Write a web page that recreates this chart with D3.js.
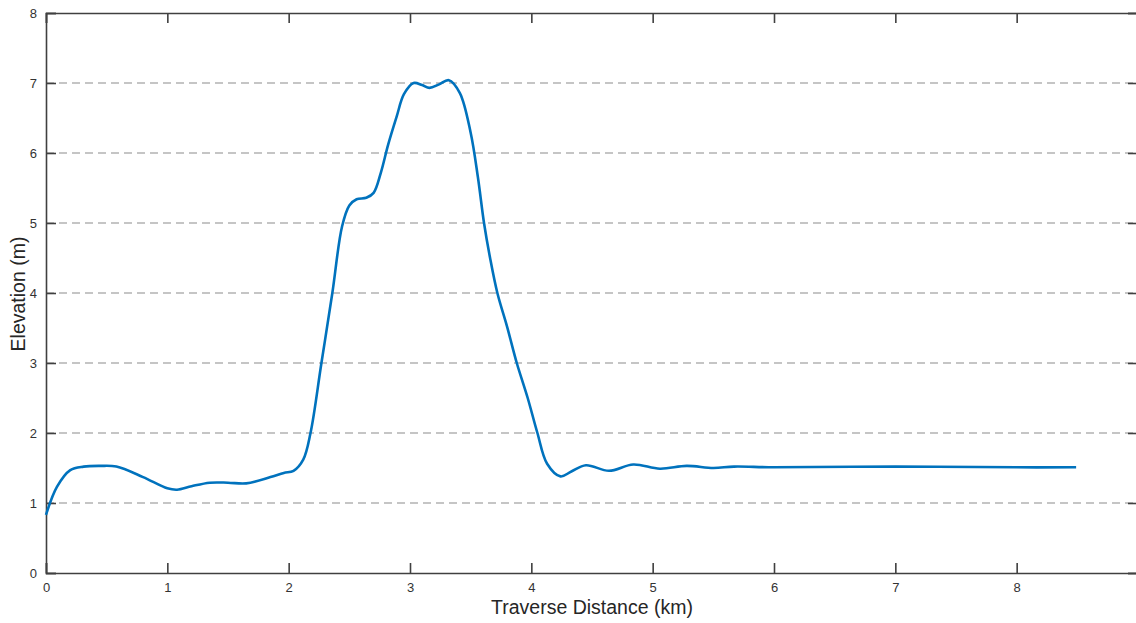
<!DOCTYPE html>
<html>
<head>
<meta charset="utf-8">
<script src="https://cdn.jsdelivr.net/npm/d3@7"></script>
<style>
  html, body { margin: 0; padding: 0; background: #fff; }
  svg { display: block; font-family: Arial, "Liberation Sans", Helvetica, sans-serif; }
</style>
</head>
<body>
<svg id="chart" width="1136" height="623"></svg>
<script>
// Elevation profile along the traverse
const distanceKm = [
  0, 0.09, 0.2, 0.31, 0.45, 0.58, 0.8, 1.0, 1.08, 1.2, 1.35, 1.5, 1.65, 1.85,
  1.96, 2.04, 2.12, 2.18, 2.27, 2.36, 2.44, 2.5, 2.56, 2.64, 2.70, 2.76, 2.82,
  2.89, 2.95, 3.03, 3.1, 3.16, 3.24, 3.32, 3.41, 3.5, 3.56, 3.61, 3.66, 3.72,
  3.8, 3.88, 3.97, 4.05, 4.13, 4.24, 4.33, 4.45, 4.64, 4.84, 5.06, 5.28, 5.5,
  5.67, 6.0, 7.0, 8.0, 8.49
];
const elevationM = [
  0.83, 1.23, 1.47, 1.52, 1.53, 1.52, 1.37, 1.21, 1.19, 1.24, 1.29, 1.29, 1.28, 1.37,
  1.43, 1.46, 1.62, 2.0, 3.0, 4.0, 4.95, 5.25, 5.34, 5.36, 5.43, 5.72, 6.12,
  6.52, 6.84, 7.0, 6.97, 6.93, 6.98, 7.04, 6.86, 6.29, 5.65, 5.0, 4.5, 4.0,
  3.52, 3.0, 2.5, 2.0, 1.56, 1.38, 1.45, 1.54, 1.46, 1.55, 1.49, 1.53, 1.50,
  1.52, 1.51, 1.52, 1.51, 1.51
];
const xTicks = [0, 1, 2, 3, 4, 5, 6, 7, 8];
const yTicks = [0, 1, 2, 3, 4, 5, 6, 7, 8];

const svg = d3.select("#chart");
const plotLeft = 46, plotRight = 1138, plotTop = 13, plotBottom = 573;

const x = d3.scaleLinear().domain([0, 9]).range([plotLeft, plotRight]);
const y = d3.scaleLinear().domain([0, 8]).range([plotBottom, plotTop]);

const axisColor = "#404040";

// Dashed horizontal grid
svg.append("g")
  .selectAll("line")
  .data(yTicks.filter(t => t > 0 && t < 8))
  .join("line")
  .attr("x1", plotLeft).attr("x2", plotRight)
  .attr("y1", d => y(d)).attr("y2", d => y(d))
  .attr("stroke", "#b3b3b3")
  .attr("stroke-width", 1.3)
  .attr("stroke-dasharray", "8,5");

// Bottom and left axes
const gx = svg.append("g")
  .attr("transform", `translate(0,${plotBottom})`)
  .call(d3.axisBottom(x).tickValues(xTicks).tickSize(-10).tickPadding(15).tickFormat(d3.format("d")));
const gy = svg.append("g")
  .attr("transform", `translate(${plotLeft},0)`)
  .call(d3.axisLeft(y).tickValues(yTicks).tickSize(-10).tickPadding(9).tickFormat(d3.format("d")));

// Top and right box edges with inward ticks
const gTop = svg.append("g")
  .attr("transform", `translate(0,${plotTop})`)
  .call(d3.axisTop(x).tickValues(xTicks).tickSize(-10).tickFormat(""));
const gRight = svg.append("g")
  .attr("transform", `translate(${plotRight},0)`)
  .call(d3.axisRight(y).tickValues(yTicks).tickSize(-10).tickFormat(""));

[gx, gy, gTop, gRight].forEach(g => {
  g.select(".domain").attr("stroke", axisColor).attr("stroke-width", 1.6);
  g.selectAll(".tick line").attr("stroke", axisColor).attr("stroke-width", 1.6);
  g.selectAll(".tick text").attr("fill", "#333").style("font-size", "13px");
});
gx.selectAll(".tick text").attr("dy", "0.3em");

// Profile line
const line = d3.line()
  .x((d, i) => x(distanceKm[i]))
  .y(d => y(d))
  .curve(d3.curveCatmullRom.alpha(0.5));

svg.append("path")
  .datum(elevationM)
  .attr("fill", "none")
  .attr("stroke", "#0072BD")
  .attr("stroke-width", 2.6)
  .attr("stroke-linejoin", "round")
  .attr("d", line);

// Axis titles
svg.append("text")
  .attr("x", 592).attr("y", 614)
  .attr("text-anchor", "middle")
  .attr("fill", "#262626")
  .style("font-size", "19.5px")
  .text("Traverse Distance (km)");

svg.append("text")
  .attr("transform", "translate(25,294) rotate(-90)")
  .attr("text-anchor", "middle")
  .attr("fill", "#262626")
  .style("font-size", "19.5px")
  .text("Elevation (m)");
</script>
</body>
</html>
